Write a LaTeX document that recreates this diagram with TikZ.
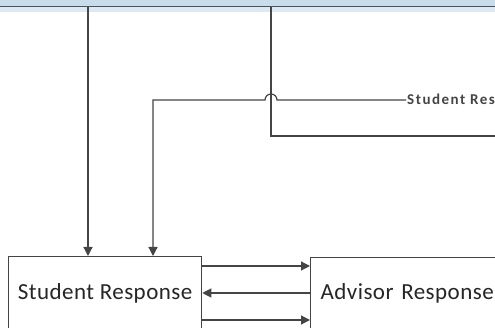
\documentclass[tikz,border=0pt]{standalone}
\usepackage{fontspec}
\setmainfont{Carlito}
\newfontfamily\boxfont[LetterSpace=2]{Carlito}
\newfontfamily\lblfont[LetterSpace=10]{Carlito Bold}
\usetikzlibrary{arrows.meta}
\definecolor{linec}{HTML}{454545}
\definecolor{bandc}{HTML}{C8DCEC}
\definecolor{bandl}{HTML}{DCE8F3}
\definecolor{bandd}{HTML}{4C535A}
\tikzset{
  conn/.style={draw=linec, line width=1.2pt},
  arr/.style={conn, -{Triangle[length=9pt,width=9pt]}},
  boxn/.style={draw=linec, line width=1.3pt, fill=white, inner sep=0pt,
    font=\boxfont\fontsize{23}{27}\selectfont, text=black!85},
  lbl/.style={inner sep=1pt, font=\lblfont\fontsize{15}{18}\selectfont, text=linec}
}
\begin{document}
\begin{tikzpicture}[x=1pt,y=-1pt]
\useasboundingbox (0,0) rectangle (495,328);
\clip (0,0) rectangle (495,328);
\fill[white] (0,0) rectangle (495,328);
% top band
\fill[bandl] (-5,7) rectangle (500,12);
\node[anchor=south west, minimum width=515pt, minimum height=60pt, inner sep=0pt,
  fill=bandc, draw=bandd, line width=1.8pt] (topbar) at (-10,7.5) {};
% boxes
\node[boxn, anchor=north west, minimum width=193pt, minimum height=74pt] (student) at (8,256) {Student Response};
\node[boxn, anchor=north west, minimum height=72pt, text width=190pt, align=left, inner xsep=10pt] (advisor) at (310,257) {Advisor Response};
% label
\node[lbl, anchor=west] (label) at (406,100) {Student Response};
\coordinate (rightend) at (500,136);
% connectors from top
\draw[arr] (topbar.south -| 88,0) -- (student.north -| 88,0);
\draw[conn] (topbar.south -| 271,0) -- (271,136) -- (rightend);
\draw[arr] (label.west) -- (277,100) arc (0:-180:6) -- (153,100) -- (student.north -| 153,0);
% arrows between boxes
\draw[arr] (student.east |- 0,266) -- (advisor.west |- 0,266);
\draw[arr] (advisor.west |- 0,293) -- (student.east |- 0,293);
\draw[arr] (student.east |- 0,320) -- (advisor.west |- 0,320);
\end{tikzpicture}
\end{document}
